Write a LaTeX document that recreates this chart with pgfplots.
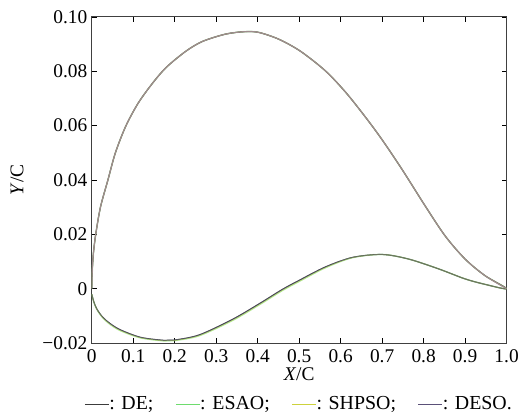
\documentclass[border=0pt]{standalone}
\usepackage{fontspec}
\setmainfont{Liberation Serif}
\usepackage{pgfplots}
\pgfplotsset{compat=1.18}
\usepackage{pgfplotstable}
\usetikzlibrary{calc}

\definecolor{deC}{RGB}{60,60,60}
\definecolor{esaoC}{RGB}{110,220,110}
\definecolor{shpsoC}{RGB}{205,210,60}
\definecolor{desoC}{RGB}{90,80,120}
\definecolor{upperC}{RGB}{160,140,142}

% contour: upper surface LE -> TE, then lower surface TE -> LE
\pgfplotstableread{
x y
0 0
0.001 0.006
0.004 0.013
0.0096 0.020
0.021 0.030
0.039 0.040
0.057 0.050
0.082 0.0598
0.112 0.0683
0.147 0.0757
0.180 0.0815
0.227 0.0874
0.267 0.0910
0.323 0.0937
0.370 0.0946
0.403 0.0943
0.451 0.0918
0.503 0.0874
0.563 0.0802
0.612 0.0723
0.660 0.0631
0.700 0.0548
0.748 0.0439
0.804 0.0304
0.852 0.0194
0.900 0.0109
0.948 0.0048
1.000 0.0000
0.948 0.0016
0.900 0.0036
0.836 0.0073
0.764 0.0109
0.700 0.0126
0.628 0.0115
0.563 0.0080
0.499 0.0030
0.459 -0.0003
0.403 -0.0056
0.339 -0.0113
0.259 -0.0170
0.199 -0.0189
0.174 -0.0190
0.118 -0.0179
0.070 -0.0152
0.045 -0.0129
0.026 -0.0104
0.012 -0.0074
0.005 -0.0048
0 -0.0020
}\deTab

\pgfplotstableread{
x y
0 0
0.001 0.006
0.004 0.013
0.0096 0.020
0.021 0.030
0.039 0.040
0.057 0.050
0.082 0.0598
0.112 0.0683
0.147 0.0757
0.180 0.0815
0.227 0.0874
0.267 0.0910
0.323 0.0937
0.370 0.0946
0.403 0.0943
0.451 0.0918
0.503 0.0874
0.563 0.0802
0.612 0.0723
0.660 0.0631
0.700 0.0548
0.748 0.0439
0.804 0.0304
0.852 0.0194
0.900 0.0109
0.948 0.0048
1.000 0.0000
0.948 0.0016
0.900 0.0036
0.836 0.0073
0.764 0.0109
0.700 0.0126
0.628 0.0114
0.563 0.0077
0.499 0.0026
0.459 -0.0007
0.403 -0.0060
0.339 -0.0117
0.259 -0.0173
0.199 -0.0191
0.174 -0.0192
0.118 -0.0181
0.070 -0.0155
0.045 -0.0132
0.026 -0.0106
0.012 -0.0075
0.005 -0.0049
0 -0.0020
}\esaoTab

\begin{document}
\begin{tikzpicture}
\begin{axis}[
    name=ax,
    scale only axis,
    width=416bp, height=327bp,
    xmin=0, xmax=1, ymin=-0.02, ymax=0.10,
    xtick={0,0.1,...,1.0},
    xticklabels={0,0.1,0.2,0.3,0.4,0.5,0.6,0.7,0.8,0.9,1.0},
    ytick={-0.02,0,0.02,0.04,0.06,0.08,0.10},
    yticklabels={−0.02,0,0.02,0.04,0.06,0.08,0.10},
    tick align=inside,
    major tick length=5bp,
    axis line style={draw=black!75, line width=1bp},
    every tick/.style={black, line width=0.9bp},
    ticklabel style={font=\fontsize{19.5}{22}\selectfont},
    xticklabel style={yshift=-3bp},
    yticklabel style={xshift=-1bp},
    xlabel={\textit{X}/C},
    ylabel={\textit{Y}/C},
    label style={font=\fontsize{19.5}{22}\selectfont},
    xlabel style={yshift=2bp},
    ylabel style={yshift=12bp},
    legend columns=4,
    legend style={at={(0.5,-0.158)}, anchor=north, draw=none, fill=none,
        font=\fontsize{20}{22}\selectfont,
        /tikz/every even column/.append style={column sep=20bp},
        /tikz/every odd column/.append style={column sep=-2bp},
        inner sep=0pt},
    legend image code/.code={\draw[#1, opacity=1, line width=0.9bp] (0bp,0bp) -- (24bp,0bp);},
    legend cell align=left,
]
\addplot[color=esaoC, line width=1.6bp, smooth, opacity=0.35, forget plot] table {\esaoTab};
\addplot[color=deC, line width=1bp, smooth] table {\deTab};
\addplot[color=esaoC, line width=0.9bp, smooth, opacity=0.4] table {\esaoTab};
\addplot[color=shpsoC, line width=0.9bp, smooth, opacity=0.4] table {\esaoTab};
\addplot[color=desoC, line width=0.9bp, smooth, opacity=0.5] table {\deTab};
\legend{: DE;, : ESAO;, : SHPSO;, : DESO.}
% the upper surface looks lighter in the figure
\addplot[color=upperC, line width=1.2bp, smooth, forget plot, restrict expr to domain={\coordindex}{0:27}] table {\deTab};
\end{axis}
\path[use as bounding box] ($(ax.south west)+(-92bp,-75bp)$) rectangle ($(ax.north east)+(14bp,17bp)$);
\end{tikzpicture}
\end{document}
